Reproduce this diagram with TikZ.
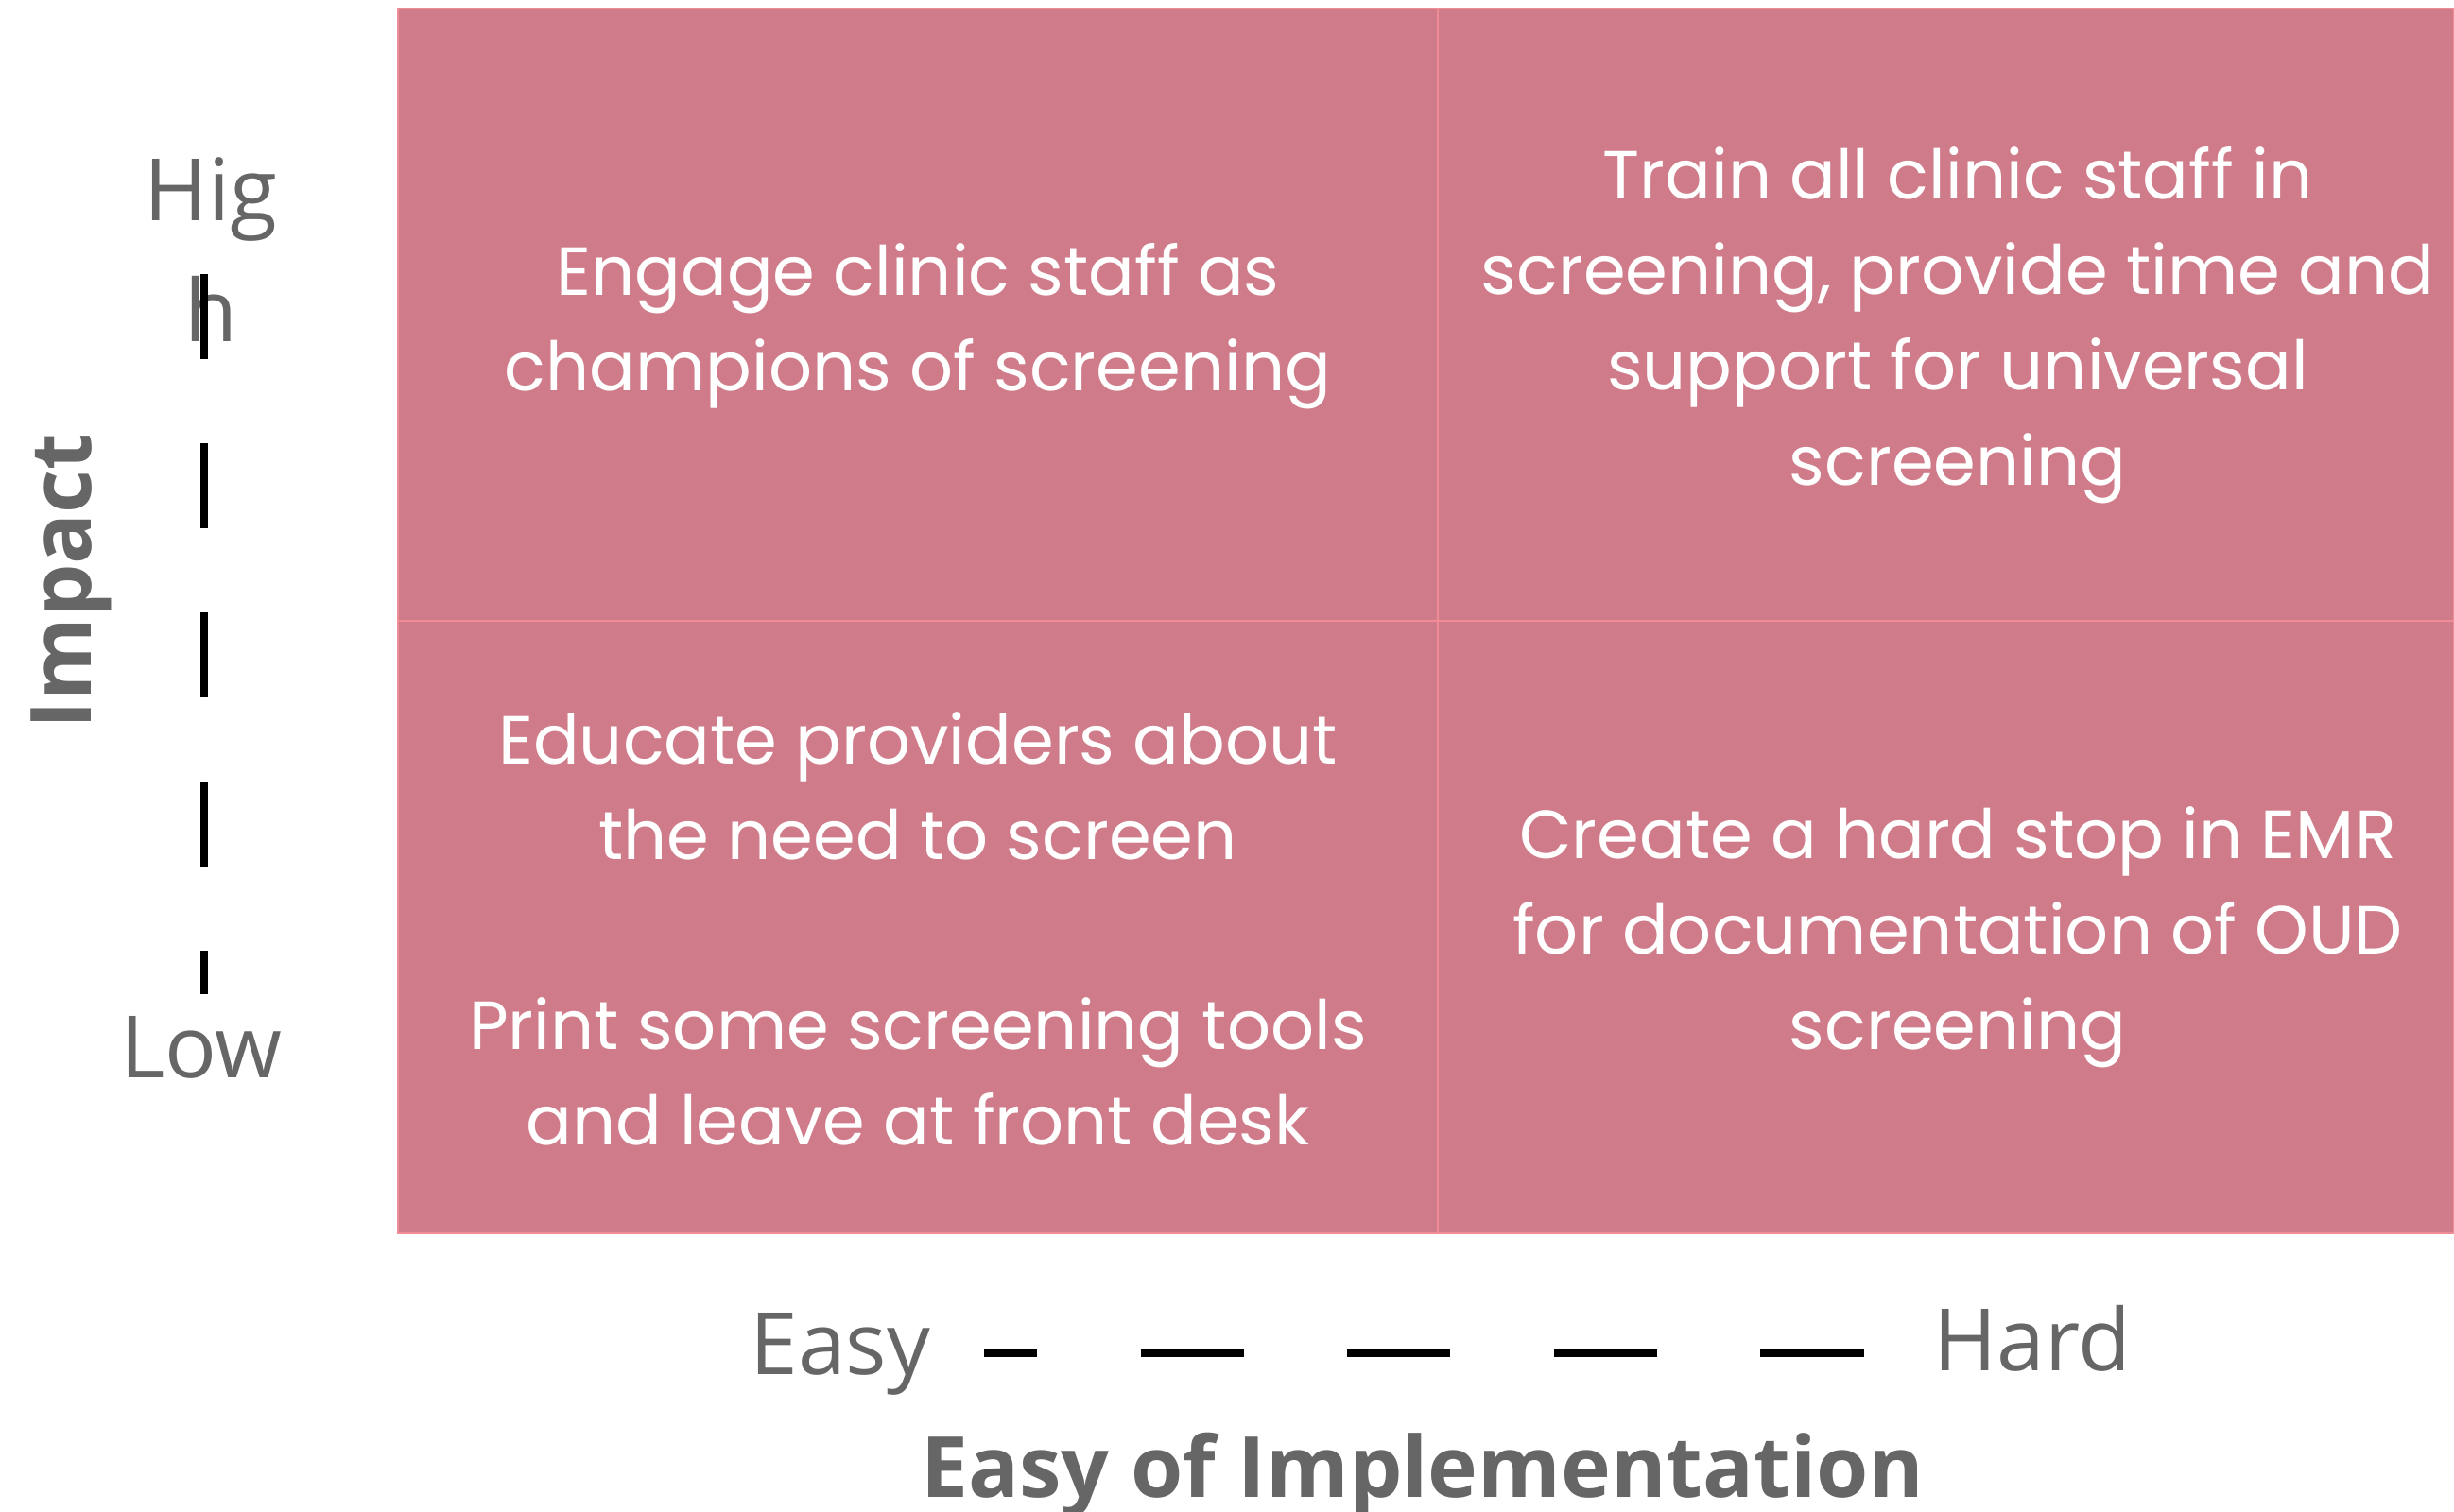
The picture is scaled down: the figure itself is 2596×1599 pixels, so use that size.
\documentclass[tikz,border=0pt]{standalone}
\usepackage{fontspec}
\newfontfamily\poppins{Poppins}
\newfontfamily\opensans{Open Sans}
\definecolor{matrixpink}{HTML}{CF7B8A}
\definecolor{gridpink}{HTML}{F08C96}
\definecolor{labelgray}{HTML}{666666}

\begin{document}
\begin{tikzpicture}[x=0.01cm, y=-0.01cm,
	cell/.style={font=\poppins\fontsize{20.5}{28.65}\selectfont, text=white, align=center, inner sep=0pt},
	axis label/.style={font=\opensans\fontsize{25.9}{36.4}\selectfont, text=labelgray, align=center, inner sep=0pt},
	axis title/.style={font=\opensans\bfseries\fontsize{25.4}{30}\selectfont, text=labelgray, inner sep=0pt},
	axis dash/.style={black, line width=2.3pt}]
	\useasboundingbox (0,0) rectangle (2596,1599);

	% quadrants
	\fill[matrixpink] (421,9) rectangle (2596,1305);
	\draw[gridpink, line width=0.6pt] (421,9) rectangle (2596,1305);
	\draw[gridpink, line width=0.6pt] (1521,9) -- (1521,1305);
	\draw[gridpink, line width=0.6pt] (421,657) -- (2596,657);

	% base = baseline of the last line
	\begin{scope}[every node/.style={cell, anchor=base}]
		\node (Engage) at (971,413) {Engage clinic staff as\\champions of screening};
		\node (Train) at (2071,513) {Train all clinic staff in\\screening, provide time and\\support for universal\\screening};
		\node (Educate) at (971,909) {Educate providers about\\the need to screen};
		\node (Print) at (971,1211) {Print some screening tools\\and leave at front desk};
		\node (Create) at (2071,1110) {Create a hard stop in EMR\\for documentation of OUD\\screening};
	\end{scope}

	% axes
	\node (High) [axis label, anchor=base] at (223,361) {Hig\\h};
	\node (Low) [axis label, anchor=base] at (213,1140) {Low};
	\node (Easy) [axis label, anchor=base] at (889,1454) {Easy};
	\node (Hard) [axis label, anchor=base] at (2150,1450) {Hard};
	\node (Impact) [axis title, anchor=base, rotate=90] at (96,615) {Impact};
	\node (Implementation) [axis title, anchor=base] at (1505,1584) {Easy of Implementation};

	\coordinate (Impact top) at (216,290);
	\coordinate (Impact bottom) at (216,1052);
	\draw[axis dash, dash pattern=on 0.9cm off 0.89cm] (Impact top) -- (Impact bottom);
	\coordinate (Ease left) at (1041,1432);
	\coordinate (Ease right) at (1972,1432);
	\draw[axis dash, dash pattern=on 1.09cm off 1.095cm, dash phase=0.53cm] (Ease left) -- (Ease right);
\end{tikzpicture}
\end{document}
